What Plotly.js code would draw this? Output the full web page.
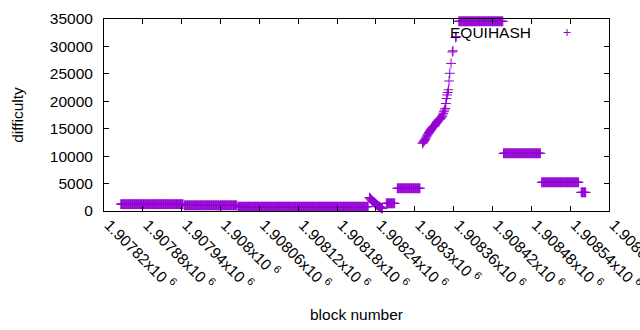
<!DOCTYPE html>
<html>
<head>
<meta charset="utf-8">
<script src="https://cdn.plot.ly/plotly-3.0.1.min.js"></script>
<style>html,body{margin:0;padding:0;background:#fff;}#chart{width:640px;height:330px;}</style>
</head>
<body>
<div id="chart"></div>
<script>
// Runs of constant difficulty (first block, last block, difficulty)
var runStart = [1907846, 1907944, 1908027, 1908256, 1908273, 1908368, 1908437, 1908496, 1908557];
var runEnd   = [1907942, 1908025, 1908228, 1908269, 1908308, 1908436, 1908494, 1908553, 1908564];
var runValue = [1240, 1030, 790, 1400, 4140, 34580, 10520, 5230, 3400];

// Falling stretch after the long flat run
var fallBlocks = [1908230, 1908231, 1908232, 1908233, 1908234, 1908235, 1908236, 1908237, 1908238, 1908239,
                  1908240, 1908241, 1908242, 1908243, 1908244, 1908245, 1908246, 1908247, 1908248, 1908249, 1908250];
var fallValues = [2450, 2330, 2200, 2050, 1930, 1800, 1690, 1580, 1470, 1360,
                  1250, 1150, 1060, 960, 880, 810, 740, 680, 600, 520, 440];

// Steep rise
var riseBlocks = [1908312, 1908313, 1908314, 1908315, 1908316, 1908317, 1908318, 1908319, 1908320, 1908321,
                  1908322, 1908323, 1908324, 1908325, 1908326, 1908327, 1908328, 1908329, 1908330, 1908331,
                  1908332, 1908333, 1908334, 1908335, 1908336, 1908337, 1908338, 1908339, 1908340, 1908341,
                  1908342, 1908343, 1908344, 1908345, 1908346, 1908347, 1908348, 1908349, 1908350, 1908351,
                  1908352, 1908353, 1908354, 1908356, 1908358, 1908359, 1908363, 1908364];
var riseValues = [12340, 12500, 12700, 12850, 13000, 13250, 13500, 13700, 13900, 14100,
                  14300, 14500, 14700, 14850, 15000, 15150, 15300, 15400, 15450, 15550,
                  15800, 16000, 16150, 16300, 16450, 16600, 16700, 16800, 16900, 17000,
                  17250, 17500, 17800, 18100, 18400, 18700, 19600, 20500, 21150, 21600,
                  22100, 23700, 25100, 26900, 29000, 29200, 31650, 31780];

// Axis ticks
var tickBlocks = [1907820, 1907880, 1907940, 1908000, 1908060, 1908120, 1908180,
                  1908240, 1908300, 1908360, 1908420, 1908480, 1908540, 1908600];
var tickLabels = ["1.90782", "1.90788", "1.90794", "1.908", "1.90806", "1.90812", "1.90818",
                  "1.90824", "1.9083", "1.90836", "1.90842", "1.90848", "1.90854", "1.9086"];
var seriesName = "EQUIHASH";

// Build per-block points
var xs = [], ys = [];
for (var r = 0; r < runStart.length; r++) {
  for (var b = runStart[r]; b <= runEnd[r]; b++) { xs.push(b); ys.push(runValue[r]); }
}
for (var i = 0; i < fallBlocks.length; i++) { xs.push(fallBlocks[i]); ys.push(fallValues[i]); }
for (var j = 0; j < riseBlocks.length; j++) { xs.push(riseBlocks[j]); ys.push(riseValues[j]); }

var purple = '#9400d3';
var FONT = 'Liberation Sans, Arial, sans-serif';
var FS = 15.5;

var trace = {
  x: xs, y: ys, type: 'scatter', mode: 'markers', name: seriesName,
  cliponaxis: false, showlegend: false,
  marker: {symbol: 'cross-thin', size: 7, color: purple, line: {color: purple, width: 1}}
};

var axisCommon = {
  showline: true, linecolor: '#000', linewidth: 1, mirror: 'ticks',
  ticks: 'inside', ticklen: 5, tickwidth: 1, tickcolor: '#000',
  showgrid: false, zeroline: false,
  tickfont: {family: FONT, size: FS, color: '#000'}
};

var layout = {
  width: 640, height: 330,
  margin: {l: 104, r: 31, t: 19, b: 119},
  paper_bgcolor: '#fff', plot_bgcolor: '#fff',
  font: {family: FONT, size: FS, color: '#000'},
  xaxis: Object.assign({}, axisCommon, {
    range: [1907820, 1908600],
    tickmode: 'array', tickvals: tickBlocks,
    ticktext: tickLabels.map(function (t) { return t + 'x10 <sup>6</sup>'; }),
    tickangle: 45, ticklabeloverflow: 'allow', ticklabelshift: 5, ticklabelstandoff: -2,
    title: {text: 'block number', font: {family: FONT, size: FS, color: '#000'}, standoff: 17}
  }),
  yaxis: Object.assign({}, axisCommon, {
    range: [0, 35000], tickmode: 'linear', tick0: 0, dtick: 5000, tickformat: 'd',
    ticklabelstandoff: 7,
    title: {text: 'difficulty', font: {family: FONT, size: FS, color: '#000'}, standoff: 22}
  }),
  annotations: [{
    xref: 'paper', yref: 'paper', x: (533 - 104) / 505, y: (211 - 32) / 192,
    xanchor: 'right', yanchor: 'middle', showarrow: false,
    text: seriesName, font: {family: FONT, size: FS, color: '#000'}
  }],
  shapes: [
    {type: 'line', xref: 'paper', yref: 'paper', x0: (563.5 - 104) / 505, x1: (570.5 - 104) / 505,
     y0: (211 - 32.5) / 192, y1: (211 - 32.5) / 192, line: {color: purple, width: 1}},
    {type: 'line', xref: 'paper', yref: 'paper', x0: (567 - 104) / 505, x1: (567 - 104) / 505,
     y0: (211 - 29) / 192, y1: (211 - 36) / 192, line: {color: purple, width: 1}}
  ]
};

Plotly.newPlot('chart', [trace], layout, {displayModeBar: false, staticPlot: true});
</script>
</body>
</html>
